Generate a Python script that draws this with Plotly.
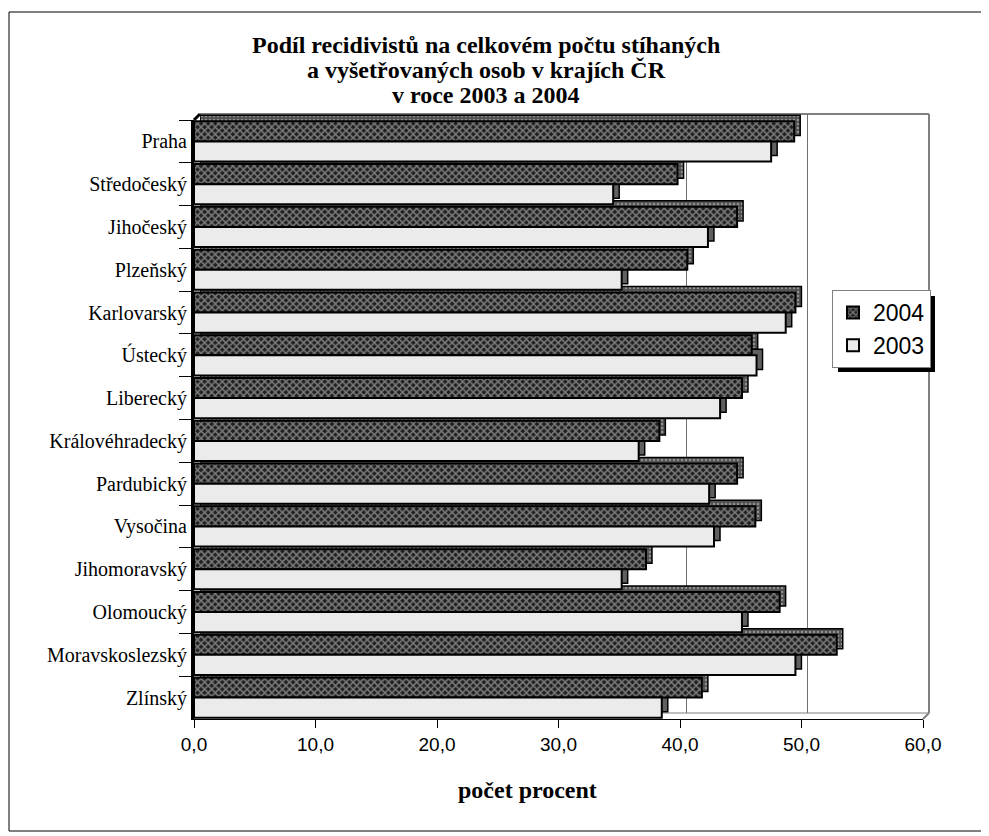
import plotly.graph_objects as go

# kraje, shora dolu
kraje = ['Praha', 'Středočeský', 'Jihočeský', 'Plzeňský', 'Karlovarský', 'Ústecký', 'Liberecký',
         'Královéhradecký', 'Pardubický', 'Vysočina', 'Jihomoravský', 'Olomoucký',
         'Moravskoslezský', 'Zlínský']
podil_2004 = [49.4, 39.8, 44.7, 40.6, 49.5, 45.9, 45.1, 38.3, 44.7, 46.2, 37.2, 48.2, 52.9, 41.8]
podil_2003 = [47.5, 34.5, 42.3, 35.2, 48.7, 46.3, 43.3, 36.6, 42.4, 42.8, 35.2, 45.1, 49.5, 38.5]
x_ticks = [0, 10, 20, 30, 40, 50, 60]
titulek = ['Podíl recidivistů na celkovém počtu stíhaných',
           'a vyšetřovaných osob v krajích ČR',
           'v roce 2003 a 2004']

OFF = 8                    # okraj body ve strance
W, H = 989 - OFF, 836 - OFF
L, T = 194 - OFF, 114 - OFF
PW, PH = 735, 605          # cela plocha grafu vcetne hloubky
D = 6                      # hloubka 3D efektu v px
ex, ey = D / PW, D / PH


def px(sx):
    return (sx - 194) / PW


def py(sy):
    return (719 - sy) / PH


fig = go.Figure()

# "zadni" kopie sloupcu = bocni a horni steny 3D efektu (posunute nahoru a doprava)
fig.add_trace(go.Bar(
    y=kraje, x=podil_2004, orientation='h', xaxis='x', yaxis='y',
    marker=dict(color='#505050', line=dict(color='black', width=1.5),
                pattern=dict(shape='.', bgcolor='#505050', fgcolor='#d0d0d0', size=4, solidity=0.3)),
    showlegend=False, hoverinfo='skip'
))
fig.add_trace(go.Bar(
    y=kraje, x=podil_2003, orientation='h', xaxis='x', yaxis='y',
    marker=dict(color='#606060', line=dict(color='black', width=1.5)),
    showlegend=False, hoverinfo='skip'
))

fig.add_trace(go.Bar(
    y=kraje, x=podil_2004, orientation='h', name='2004', xaxis='x2', yaxis='y2',
    marker=dict(color='#202020', line=dict(color='black', width=2),
                pattern=dict(shape='x', bgcolor='#202020', fgcolor='#d4d4d4', size=5, solidity=0.5)),
    hovertemplate='%{y}: %{x:.1f} %<extra>2004</extra>'
))
fig.add_trace(go.Bar(
    y=kraje, x=podil_2003, orientation='h', name='2003', xaxis='x2', yaxis='y2',
    marker=dict(color='#ebebeb', line=dict(color='black', width=2)),
    hovertemplate='%{y}: %{x:.1f} %<extra>2003</extra>'
))

yrange = [len(kraje) - 0.5, -0.5]

fig.update_layout(
    width=W, height=H,
    margin=dict(l=L, r=W - L - PW, t=T, b=H - T - PH),
    paper_bgcolor='white', plot_bgcolor='rgba(0,0,0,0)',
    separators=', ',
    barmode='group', bargap=0.06, bargroupgap=0,
    xaxis=dict(domain=[ex, 1], range=[0, 60], showgrid=True, gridcolor='#707070', gridwidth=1,
               tickvals=x_ticks, showticklabels=False, ticks='', zeroline=False, showline=False),
    yaxis=dict(domain=[ey, 1], range=yrange, type='category', showticklabels=False,
               showgrid=False, ticks='', showline=False, zeroline=False),
    xaxis2=dict(domain=[0, 1 - ex], range=[0, 60], anchor='y2', tickvals=x_ticks, tickformat='.1f',
                showgrid=False, zeroline=False, showline=True, linecolor='black', linewidth=1,
                ticks='outside', ticklen=8, tickcolor='black',
                tickfont=dict(family='Liberation Sans', size=19, color='black')),
    yaxis2=dict(domain=[0, 1 - ey], range=yrange, type='category', anchor='x2',
                showgrid=False, zeroline=False, showline=True, linecolor='black', linewidth=3,
                ticks='outside', ticklen=12, tickcolor='black', tickson='boundaries',
                tickfont=dict(family='Liberation Serif', size=20, color='black')),
    legend=dict(x=px(832), y=py(290), xanchor='left', yanchor='top',
                bgcolor='white', bordercolor='#808080', borderwidth=1,
                font=dict(family='Liberation Sans', size=23, color='black'),
                tracegroupgap=2, itemwidth=30),
    showlegend=True,
)

# titulek po radcich (husty radkovy rozestup jako v originale)
for i, radek in enumerate(titulek):
    fig.add_annotation(text=radek, xref='paper', yref='paper', x=px(486), y=py(45 + 25 * i),
                       xanchor='center', yanchor='middle', showarrow=False,
                       font=dict(family='Liberation Serif', size=24, color='black', weight='bold'))

fig.add_annotation(text='počet procent', xref='paper', yref='paper', x=px(527), y=py(790),
                   xanchor='center', yanchor='middle', showarrow=False,
                   font=dict(family='Liberation Serif', size=24, color='black', weight='bold'))

# obrys zadni steny a podlahy
fig.add_shape(type='line', xref='paper', yref='paper', x0=ex, y0=1, x1=1, y1=1,
              line=dict(color='#808080', width=2), layer='below')
fig.add_shape(type='line', xref='paper', yref='paper', x0=1, y0=ey, x1=1, y1=1,
              line=dict(color='#808080', width=2), layer='below')
fig.add_shape(type='line', xref='paper', yref='paper', x0=ex, y0=ey, x1=1, y1=ey,
              line=dict(color='#808080', width=1), layer='below')
fig.add_shape(type='line', xref='paper', yref='paper', x0=1 - ex, y0=0, x1=1, y1=ey,
              line=dict(color='#808080', width=2), layer='below')
fig.add_shape(type='line', xref='paper', yref='paper', x0=0, y0=1 - ey, x1=ex, y1=1,
              line=dict(color='black', width=3), layer='below')

# stin legendy
fig.add_shape(type='rect', xref='paper', yref='paper',
              x0=px(838), x1=px(935), y0=py(372), y1=py(296),
              fillcolor='black', line=dict(width=0), layer='above')

# vnejsi ramecek
fig.add_shape(type='rect', xref='paper', yref='paper',
              x0=px(9), x1=px(985), y0=py(831), y1=py(12),
              line=dict(color='black', width=1), fillcolor='rgba(0,0,0,0)', layer='below')

fig.write_html("out.html")
